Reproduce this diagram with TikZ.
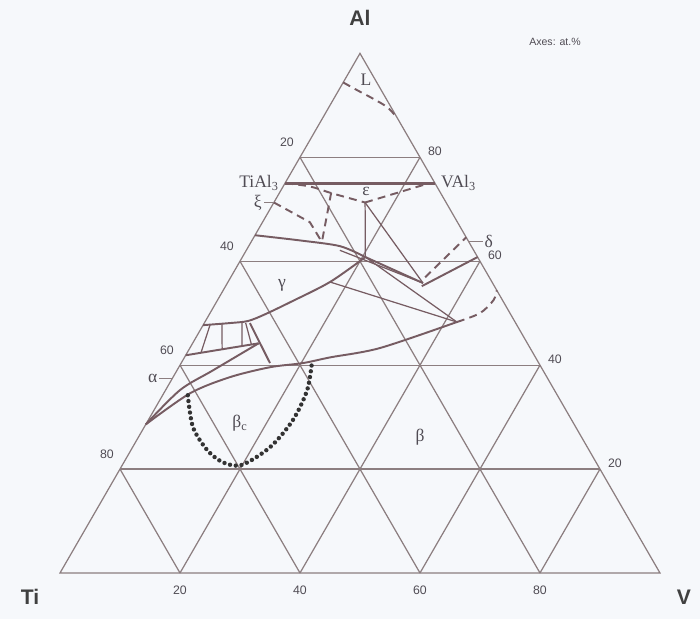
\documentclass[tikz,border=0pt]{standalone}
\usepackage{fontspec}
\setmainfont{Liberation Serif}
\setsansfont{Liberation Sans}
\usetikzlibrary{calc}

\definecolor{phaseline}{RGB}{118,92,98}
\definecolor{gridcol}{RGB}{140,126,128}
\definecolor{labeltext}{RGB}{80,76,84}
\definecolor{paper}{RGB}{246,248,251}

\begin{document}
\begin{tikzpicture}[x={(0.12cm,0cm)}, y={(0.06cm,0.1039230cm)},
    every node/.style={text=labeltext, inner sep=1pt},
    gridln/.style={draw=gridcol, line width=0.7pt},
    phase/.style={draw=phaseline, line width=1.1pt},
    thinphase/.style={draw=phaseline, line width=0.7pt},
    dashphase/.style={draw=phaseline, line width=1.1pt, dash pattern=on 4.5pt off 3pt},
    dotphase/.style={draw=black!80, line width=2.5pt, line cap=round, dash pattern=on 0pt off 3.3pt},
    axisnum/.style={font=\sffamily\fontsize{7}{8}\selectfont},
    vertexlabel/.style={font=\sffamily\bfseries\fontsize{12}{14}\selectfont, text=black!75},
    phaselabel/.style={font=\fontsize{10}{11}\selectfont}
]
    % Page
    \useasboundingbox[fill=paper] (-1.2cm,-0.92cm) rectangle (12.8cm,11.46cm);

    % Triangle and grid (coordinates are (V, Al) in at.%)
    \coordinate (Ti) at (0,0);
    \coordinate (V) at (100,0);
    \coordinate (Al) at (0,100);
    \draw[gridln] (Ti) -- (V) -- (Al) -- cycle;
    \foreach \k in {20,40,60,80} {
        \draw[gridln] (0,\k) -- ({100-\k},\k);
        \draw[gridln] (\k,0) -- (\k,{100-\k});
        \draw[gridln] ({100-\k},0) -- (0,{100-\k});
    }

    % Axis numbers
    \foreach \k in {20,40,60,80} {
        \node[axisnum] (bot\k) at ([yshift=-0.34cm]\k,0) {\k};
        \node[axisnum, anchor=west] (rgt\k) at ([xshift=0.12cm, yshift=0.12cm]{100-\k},\k) {\k};
    }
    \foreach \k/\t in {80/20,60/40,40/60,20/80}
        \node[axisnum] (lft\t) at ([shift={(-0.26cm,0.3cm)}]0,\k) {\t};

    % Corner labels
    \node[vertexlabel] (lblAl) at (6cm,11.1cm) {Al};
    \node[vertexlabel] (lblTi) at (-0.6cm,-0.48cm) {Ti};
    \node[vertexlabel] (lblV) at (12.48cm,-0.48cm) {V};
    \node[font=\sffamily\fontsize{6}{7}\selectfont] (axes) at (9.9cm,10.62cm) {Axes: at.\%};

    % Key points
    \coordinate (tial3) at (0,75);
    \coordinate (val3) at (25,75);
    \coordinate (eps) at (15.2,71.3);
    \coordinate (junc) at (20.5,60.8);
    \coordinate (dcorner) at (32.6,55.8);
    \coordinate (pcorner) at (42,48.3);

    % Liquid boundary
    \draw[dashphase] plot[smooth] coordinates {(0,94.4) (3.1,92.9) (6.5,91.3) (9.8,89.6) (12.5,87.5)};

    % TiAl3 - VAl3 and epsilon
    \draw[draw=phaseline, line width=1.6pt] (tial3) -- (val3);
    \draw[dashphase] plot[smooth] coordinates {(0,75) (4.4,74.4) (8.7,73.1) (15.2,71.3)};
    \draw[dashphase] (eps) -- (24,75);
    \draw[thinphase] (eps) -- (junc);
    \draw[thinphase] (eps) -- (dcorner);

    % xi region
    \draw[dashphase] (0,71.3) -- (7.9,67.5) -- (11.8,63.7);
    \draw[dashphase] (8.6,73.2) -- (11.8,63.7);

    % gamma boundaries
    \draw[phase] plot[smooth] coordinates {(0,65) (8,64) (15.2,62.9) (20.5,60.8)};
    \draw[phase] (junc) -- (dcorner);
    \draw[thinphase] (15.6,62.1) -- (dcorner);
    \draw[phase] plot[smooth] coordinates {(0,47.7) (4.3,48.1) (7.1,48.5) (9.3,49.8) (12.3,52.1) (17,56) (20.5,60.8)};
    \draw[thinphase] (junc) -- (pcorner);
    \draw[thinphase] (17,56) -- (pcorner);

    % delta region
    \draw[dashphase] (32.4,56.9) -- (35.4,64.6);
    \draw[phase] (32.7,55.2) -- (39.2,60.8);
    \draw[dashphase] plot[smooth] coordinates {(42,48.3) (45,50) (46,52.5) (45.6,54.4)};

    % Small two-phase region with tie lines
    \draw[phase] (0,41.9) -- (11,44.2);
    \draw[phase] (7.6,48.1) -- (14.8,40.4);
    \draw[thinphase] (1.15,47.7) -- (2.3,42.4);
    \draw[thinphase] (3.05,47.9) -- (5.5,43.05);
    \draw[thinphase] (6.3,48.1) -- (8.5,43.7);
    \draw[thinphase] (6.9,48.1) -- (9.9,44);

    % alpha / beta boundaries
    \draw[phase] plot[smooth] coordinates {(0,28.6) (2.4,35.2) (6,39) (11,44.2)};
    \draw[phase] plot[smooth] coordinates {(0,28.6) (4.4,34.6) (9.5,37.7) (15.2,39.6) (20.3,40.4) (24.3,41.5) (31.7,43.3) (42,48.3)};

    % beta_c boundary
    \draw[dotphase] plot[smooth] coordinates {(4.2,34.2) (8.1,28.1) (12.65,23.7) (16.5,21.3) (19.9,20.8) (22.9,24.2) (24.1,29.4) (23.6,35.2) (21.7,40.6)};

    % Phase labels
    \node[phaselabel, anchor=east] (lblTiAl3) at ([xshift=-0.08cm]tial3) {TiAl\textsubscript{3}};
    \node[phaselabel, anchor=west] (lblVAl3) at ([xshift=0.08cm]val3) {VAl\textsubscript{3}};
    \node[phaselabel] (lblL) at (3.5,95) {L};
    \node[phaselabel] (lblEps) at (14.3,73.4) {ε};
    \node[phaselabel] (lblGamma) at (9.3,55.4) {γ};
    \node[phaselabel] (lblBetac) at (15.6,28.8) {β\textsubscript{c}};
    \node[phaselabel] (lblBeta) at (46.9,26.2) {β};

    % Edge markers
    \coordinate (xiEdge) at (0,71.3);
    \coordinate (xiEnd) at ([xshift=-0.2cm]xiEdge);
    \draw[gridln] (xiEdge) -- (xiEnd);
    \node[phaselabel, anchor=east] (lblXi) at (xiEnd) {ξ};
    \coordinate (alEdge) at (0,37.5);
    \coordinate (alEnd) at ([xshift=-0.26cm]alEdge);
    \draw[gridln] (alEdge) -- (alEnd);
    \node[phaselabel, anchor=east] (lblAlpha) at (alEnd) {α};
    \coordinate (deEdge) at (36.2,63.8);
    \coordinate (deEnd) at ([xshift=0.28cm]deEdge);
    \draw[gridln] (deEdge) -- (deEnd);
    \node[phaselabel, anchor=west] (lblDelta) at (deEnd) {δ};
\end{tikzpicture}
\end{document}
